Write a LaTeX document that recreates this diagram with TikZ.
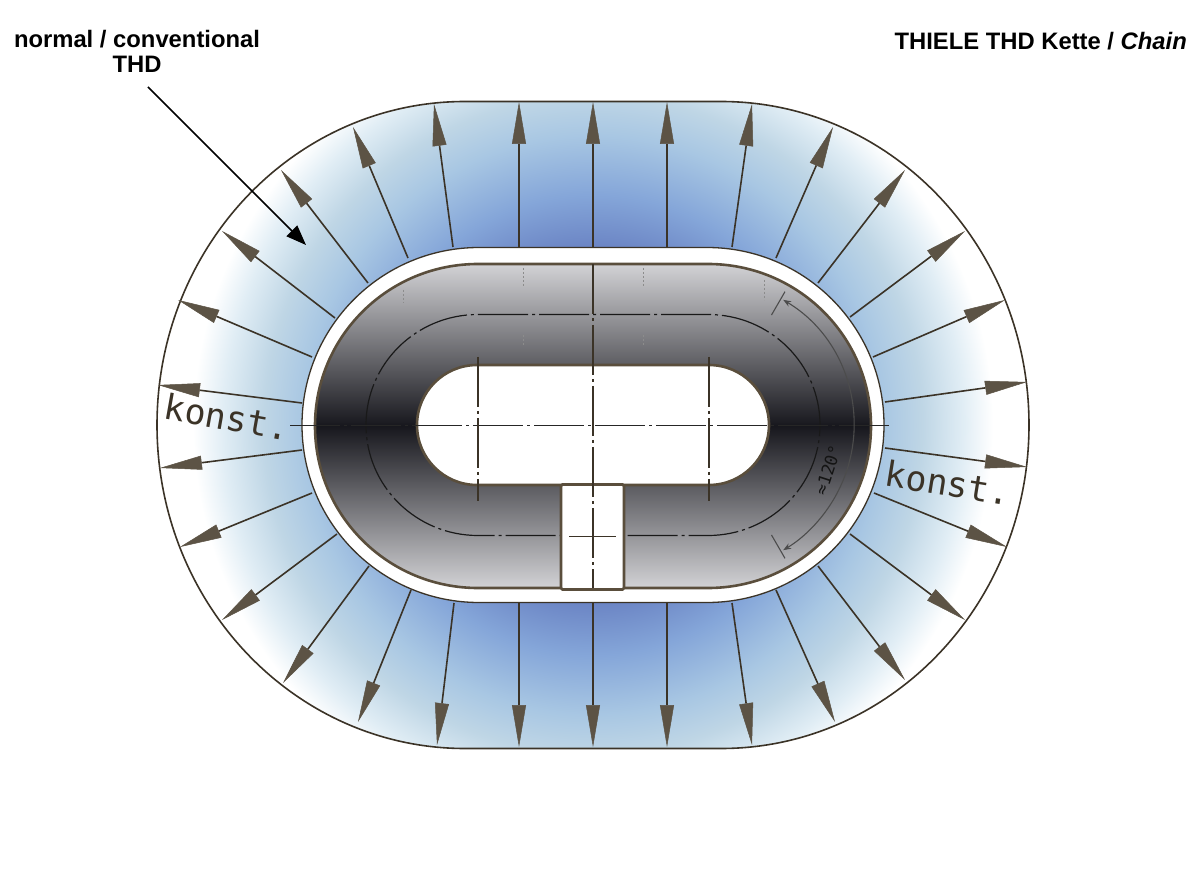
\documentclass[tikz,border=0pt]{standalone}
\usepackage{fontspec}
\setmainfont{Liberation Sans}
\newfontfamily\konstfont{DejaVu Sans Mono}
\usetikzlibrary{arrows.meta}

\definecolor{inkbrown}{HTML}{3B3327}
\definecolor{rimbrown}{HTML}{5A4E3C}
\definecolor{headbrown}{HTML}{5C5345}
\definecolor{ringlight}{HTML}{D2D2D5}
\definecolor{ringdark}{HTML}{17171D}

\pgfdeclareradialshading{flowblue}{\pgfpoint{0bp}{0bp}}{
	rgb(0bp)=(0.42,0.52,0.77);
	rgb(8.85bp)=(0.42,0.52,0.77);
	rgb(11.5bp)=(0.52,0.65,0.85);
	rgb(14.5bp)=(0.66,0.78,0.89);
	rgb(16.5bp)=(0.75,0.84,0.90);
	rgb(18.5bp)=(0.88,0.93,0.96);
	rgb(20bp)=(1,1,1);
	rgb(50bp)=(1,1,1)}

\newcommand{\ovalpath}[3]{(593-#1,-425+#3)--(593+#1,-425+#3) arc[start angle=90,end angle=-90,x radius=#2,y radius=#3]--(593-#1,-425-#3) arc[start angle=270,end angle=90,x radius=#2,y radius=#3]--cycle}

\tikzset{
	flowarrow/.style={draw=inkbrown,line width=1.6pt,-{Triangle[length=42pt,width=14pt,fill=headbrown,color=headbrown,line width=0.5pt]}},
	axisline/.style={draw=#1,line width=1.6pt,dash pattern=on 50pt off 4pt on 3pt off 4pt},
	axisline/.default=inkbrown,
	rimline/.style={draw=rimbrown,line width=2.6pt},
	titletext/.style={font=\fontsize{23.8}{25}\selectfont\bfseries,align=center,text=black,inner sep=0pt},
	konsttext/.style={font=\konstfont\fontsize{35}{35}\selectfont,text=inkbrown,inner sep=0pt},
	dimline/.style={draw=black!70,line width=1.1pt}
}

\begin{document}
\begin{tikzpicture}[x=1pt,y=1pt]
\useasboundingbox (0,0) rectangle (1200,-874);

% flow field
\begin{scope}
	\clip \ovalpath{128}{308}{323.5};
	\shade[shading=flowblue] (593,-425) circle (500);
\end{scope}
\draw[draw=inkbrown,line width=1.6pt] \ovalpath{128}{308}{323.5};

\foreach \xa/\ya/\xb/\yb in {
	453/247/434/104,519/247/519/102,593/247/593/102,667/247/667/102,732/247/752/104,
	776/258/833/127,818/283/905/170,850/317/965/231,873/357/1005/300,885/402/1027/382,
	885/448/1027/467,874/493/1007/547,850/534/965/620,818/566/905/680,776/590/835/722,
	732/603/752/745,667/603/667/747,593/603/593/747,519/603/519/747,454/603/437/745,
	411/590/358/722,369/566/283/683,337/534/222/620,312/493/180/547,302/450/160/468,
	302/403/158/385,312/357/178/300,335/318/222/231,368/283/281/170,408/258/353/127}
{
	\draw[flowarrow] (\xa,-\ya)--(\xb,-\yb);
}

% chain body
\fill[white] \ovalpath{114}{177}{177.5};
\draw[draw=inkbrown,line width=1.3pt] \ovalpath{114}{177}{177.5};
\begin{scope}[yshift=-1pt]
	\shade[top color=ringlight,bottom color=ringlight,middle color=ringdark] \ovalpath{115}{163}{162};
	\draw[rimline] \ovalpath{115}{163}{162};
\end{scope}
\fill[white] \ovalpath{116}{60}{60};
\draw[rimline] \ovalpath{116}{60}{60};

% faint marks
\foreach \x/\ya/\yb in {523/268/286,523/335/346,643/268/286,643/335/346,403/290/303,764/280/300}
{
	\draw[draw=black!45,line width=1pt,dash pattern=on 2pt off 2pt] (\x,-\ya)--(\x,-\yb);
}

% axes
\draw[axisline=black!90,line width=1.2pt] \ovalpath{115}{112}{110.5};
\node[draw=rimbrown,fill=white,line width=2.6pt,rounded corners=1.5pt,minimum width=63pt,minimum height=105pt,inner sep=0pt] (slot) at (592.5,-537) {};
\draw[axisline=black!85] (290,-425.5)--(891,-425.5);
\foreach \x in {478,709}
{
	\draw[axisline] (\x,-357)--(\x,-501);
}
\draw[axisline] (593,-264)--(593,-588);
\draw[draw=inkbrown,line width=1.5pt] (569,-536.5)--(616,-536.5);

% 120 degree measure
\draw[dimline,Stealth-Stealth] (708,-425)++(59:146) arc[start angle=59,end angle=-59,radius=146];
\foreach \a in {60,-60}
{
	\draw[dimline] (708,-425)++(\a:127)--++(\a:27);
}
\node[font=\konstfont\fontsize{17}{17}\selectfont,text=black!92,rotate=72,inner sep=0pt] (angletext) at (828,-470) {≈120°};

% labels
\node[konsttext,rotate=-10] (konstleft) at (227,-417) {konst.};
\node[konsttext,rotate=-9] (konstright) at (948,-483) {konst.};
\node[titletext] (thdtext) at (137,-51) {normal / conventional\\THD};
\node[titletext,anchor=east] (chaintext) at (1187,-41) {THIELE THD Kette / \textit{Chain}};

\coordinate (thdtail) at (148,-87);
\coordinate (thdtip) at (306,-245);
\draw[black,line width=1.5pt,-{Triangle[length=20pt,width=15pt]}] (thdtail)--(thdtip);

\end{tikzpicture}
\end{document}
